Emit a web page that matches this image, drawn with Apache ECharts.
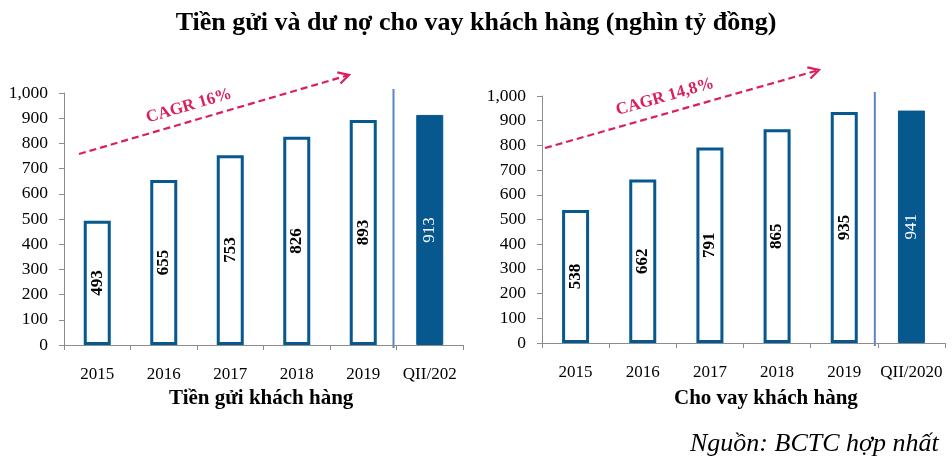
<!DOCTYPE html>
<html><head><meta charset="utf-8">
<script src="https://cdn.jsdelivr.net/npm/echarts@6/dist/echarts.min.js"></script>
<style>html,body{margin:0;padding:0;background:#fff}#c{width:952px;height:463px}</style>
</head><body><div id="c"></div>
<script>
var categories = ['2015','2016','2017','2018','2019','QII/2020'];
var depositValues = [493, 655, 753, 826, 893, 913];
var loanValues = [538, 662, 791, 865, 935, 941];
var yTicks = [0,100,200,300,400,500,600,700,800,900,1000];
var mainTitle = 'Tiền gửi và dư nợ cho vay khách hàng (nghìn tỷ đồng)';
var leftTitle = 'Tiền gửi khách hàng';
var rightTitle = 'Cho vay khách hàng';
var leftCagr = 'CAGR 16%';
var rightCagr = 'CAGR 14,8%';
var source = 'Nguồn: BCTC hợp nhất';

var BLUE = '#06588F', RED = '#DC1E5A', SERIF = '"Liberation Serif","Times New Roman",serif';

function barData(vals){
  return vals.map(function(v,i){
    var last = i === vals.length-1;
    return {value:v,
      itemStyle: last ? {color:BLUE, borderColor:BLUE, borderWidth:1} : {color:'#fff', borderColor:BLUE, borderWidth:3},
      label: last ? {color:'#fff', fontWeight:'normal'} : {color:'#000', fontWeight:'bold'}};
  });
}
function xAxis(idx){
  return {type:'category', gridIndex:idx, data:categories,
    axisLine:{lineStyle:{color:'#8c8c8c'}},
    axisTick:{show:true, interval:0, length:5, lineStyle:{color:'#8c8c8c'}},
    axisLabel:{interval:0, margin:21, color:'#000', fontFamily:SERIF, fontSize:17,
      width: idx===0?60:80, overflow: idx===0?'truncate':'none', ellipsis:''}};
}
function yAxis(idx){
  return {type:'value', gridIndex:idx, min:yTicks[0], max:yTicks[yTicks.length-1], interval:100,
    splitLine:{show:false},
    axisLine:{show:true, lineStyle:{color:'#8c8c8c'}},
    axisTick:{show:true, length:5, lineStyle:{color:'#8c8c8c'}},
    axisLabel:{margin:16, color:'#000', fontFamily:SERIF, fontSize:17.5,
      formatter:function(v){return v>=1000? String(v).replace(/(\d)(?=(\d{3})+$)/,'$1,') : String(v);}}};
}
function series(idx, vals){
  return {type:'bar', xAxisIndex:idx, yAxisIndex:idx, data:barData(vals), barWidth:27,
    label:{show:true, position:'inside', rotate:90, fontFamily:SERIF, fontSize:17}};
}

var chart = echarts.init(document.getElementById('c'));
var option = {
  animation:false,
  title:[
    {text:mainTitle, left:'center', top:5, textStyle:{fontFamily:SERIF, fontSize:26, fontWeight:'bold', color:'#000'}},
    {text:leftTitle, left:164, top:383, textStyle:{fontFamily:SERIF, fontSize:21, fontWeight:'bold', color:'#000'}},
    {text:rightTitle, left:669, top:383, textStyle:{fontFamily:SERIF, fontSize:21, fontWeight:'bold', color:'#000'}},
    {text:source, left:685, top:426, textStyle:{fontFamily:SERIF, fontSize:26, fontStyle:'italic', fontWeight:'normal', color:'#000'}}
  ],
  grid:[
    {left:64, right:489, top:93, bottom:118},
    {left:542, right:7, top:96, bottom:120}
  ],
  xAxis:[xAxis(0), xAxis(1)],
  yAxis:[yAxis(0), yAxis(1)],
  series:[series(0, depositValues), series(1, loanValues)]
};
chart.setOption(option);

function sepLine(idx){
  var xa = chart.convertToPixel({xAxisIndex:idx}, categories[4]);
  var xb = chart.convertToPixel({xAxisIndex:idx}, categories[5]);
  var y0 = chart.convertToPixel({yAxisIndex:idx}, 0);
  var y1 = chart.convertToPixel({yAxisIndex:idx}, 1000);
  var x = (xa+xb)/2 - 3;
  return {type:'line', shape:{x1:x, y1:y1-4, x2:x, y2:y0+3}, style:{stroke:'#5b86c5', lineWidth:2}};
}
function arrow(x1,y1,x2,y2){
  var ang = Math.atan2(y2-y1, x2-x1), L=12, a=0.5;
  return [
    {type:'line', shape:{x1:x1,y1:y1,x2:x2,y2:y2}, style:{stroke:RED, lineWidth:2.2, lineDash:[7,4]}},
    {type:'polyline', shape:{points:[[x2-L*Math.cos(ang-a), y2-L*Math.sin(ang-a)],[x2,y2],[x2-L*Math.cos(ang+a), y2-L*Math.sin(ang+a)]]}, style:{stroke:RED, lineWidth:2.2, fill:null}}
  ];
}
function cagrText(t,x,y,ang){
  return {type:'text', x:x, y:y, rotation:ang, style:{text:t, fill:RED, font:'bold 17px '+SERIF, align:'center', verticalAlign:'middle'}};
}
var g = [sepLine(0), sepLine(1)]
  .concat(arrow(79,154,349,75))
  .concat(arrow(545,148,819,70))
  .concat([cagrText(leftCagr,189,106,Math.atan2(79,270)), cagrText(rightCagr,665,97,Math.atan2(78,274))]);
chart.setOption({graphic:g});
</script></body></html>
